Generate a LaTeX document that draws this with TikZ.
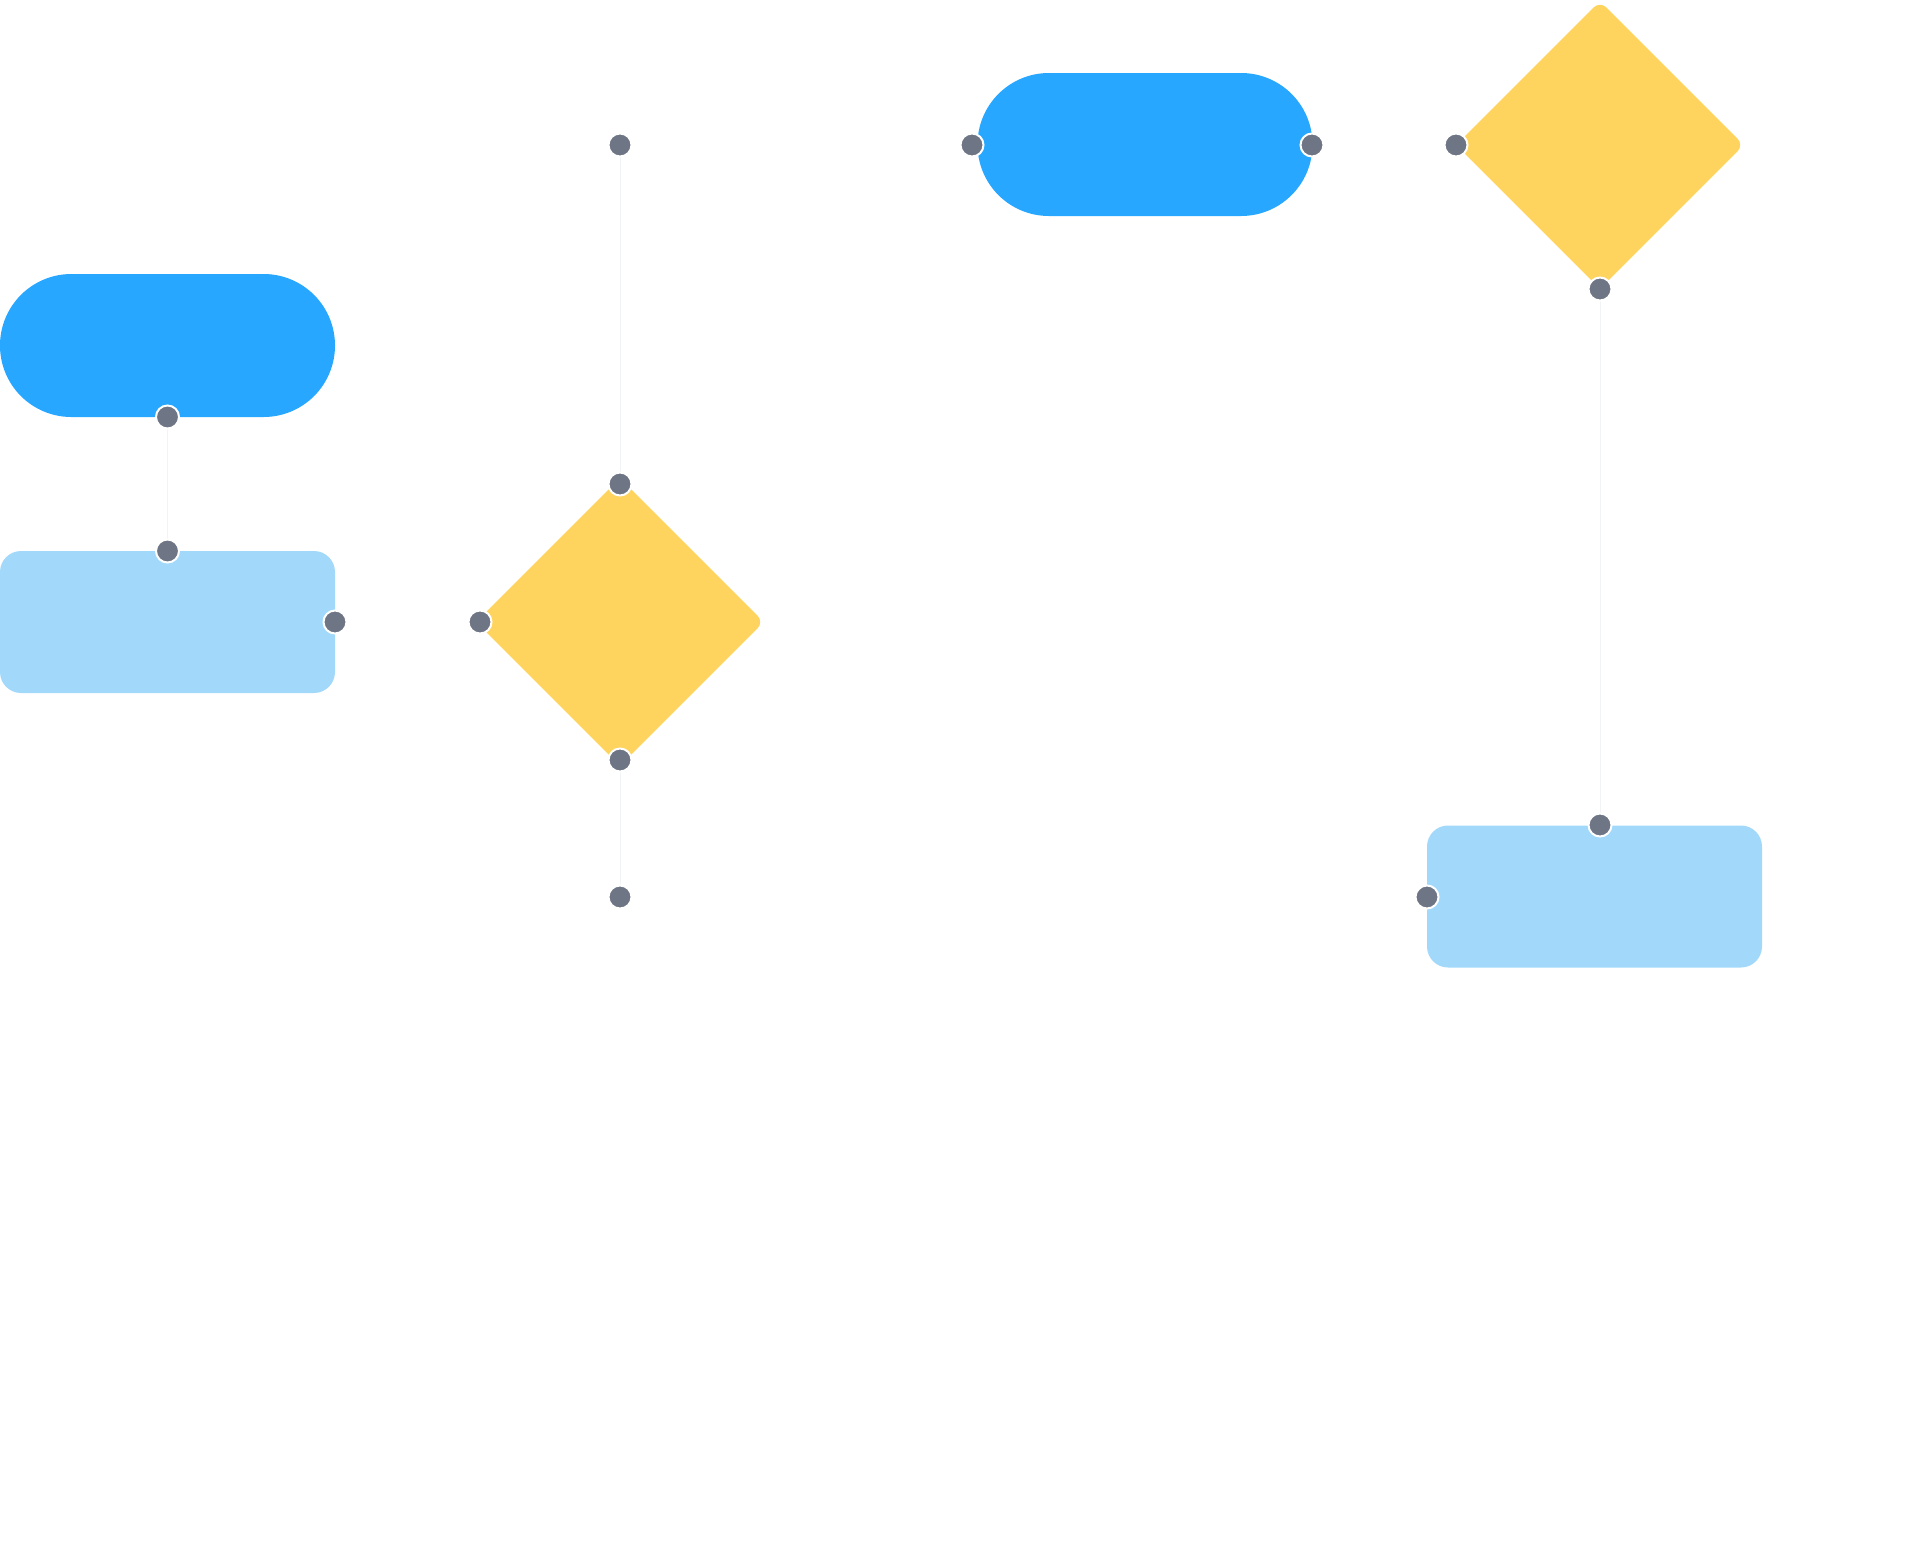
\documentclass[tikz,border=0pt]{standalone}
\usetikzlibrary{shapes.geometric}
\definecolor{termblue}{HTML}{27A7FF}
\definecolor{procblue}{HTML}{A2D9FA}
\definecolor{decyellow}{HTML}{FED45E}
\definecolor{dotgray}{HTML}{6E7585}
\definecolor{linegray}{HTML}{F1F3F6}
\pgfdeclarelayer{bg}
\pgfsetlayers{bg,main}
\tikzset{
  terminal/.style={rectangle, rounded corners=71.4pt, fill=termblue, minimum width=335pt, minimum height=143pt, inner sep=0pt},
  process/.style={rectangle, rounded corners=21pt, fill=procblue, minimum width=335pt, minimum height=142pt, inner sep=0pt},
  decision/.style={diamond, rounded corners=9pt, fill=decyellow, minimum width=288pt, minimum height=288pt, inner sep=0pt},
  port/.style={circle, fill=dotgray, draw=white, line width=2pt, minimum size=23pt, inner sep=0pt},
  conn/.style={draw=linegray, line width=1pt}
}
\begin{document}
\begin{tikzpicture}[x=1pt,y=-1pt]
\useasboundingbox (0,0) rectangle (1908,1556);
% shapes
\node[terminal] (t1) at (167.5,345.5) {};
\node[process]  (p1) at (167.5,622) {};
\node[decision] (d1) at (620,622) {};
\node[terminal] (t2) at (1145,144.5) {};
\node[decision] (d2) at (1600,145) {};
\node[process]  (p2) at (1594.5,896.5) {};
% ports
\node[port] (t1b) at (167.5,417) {};
\node[port] (p1t) at (167.5,551) {};
\node[port] (p1r) at (335,622) {};
\node[port] (d1l) at (480,622) {};
\node[port] (d1t) at (620,484) {};
\node[port] (d1b) at (620,760) {};
\node[port] (ftop) at (620,145) {};
\node[port] (fbot) at (620,897) {};
\node[port] (t2l) at (972,145) {};
\node[port] (t2r) at (1312,145) {};
\node[port] (d2l) at (1456,145) {};
\node[port] (d2b) at (1600,289) {};
\node[port] (p2t) at (1600,825) {};
\node[port] (p2l) at (1427,897) {};
% connectors
\begin{pgfonlayer}{bg}
\draw[conn] (t1b.center) -- (p1t.center);
\draw[conn] (ftop.center) -- (d1t.center);
\draw[conn] (d1b.center) -- (fbot.center);
\draw[conn] (d2b.center) -- (p2t.center);
\end{pgfonlayer}
\end{tikzpicture}
\end{document}
